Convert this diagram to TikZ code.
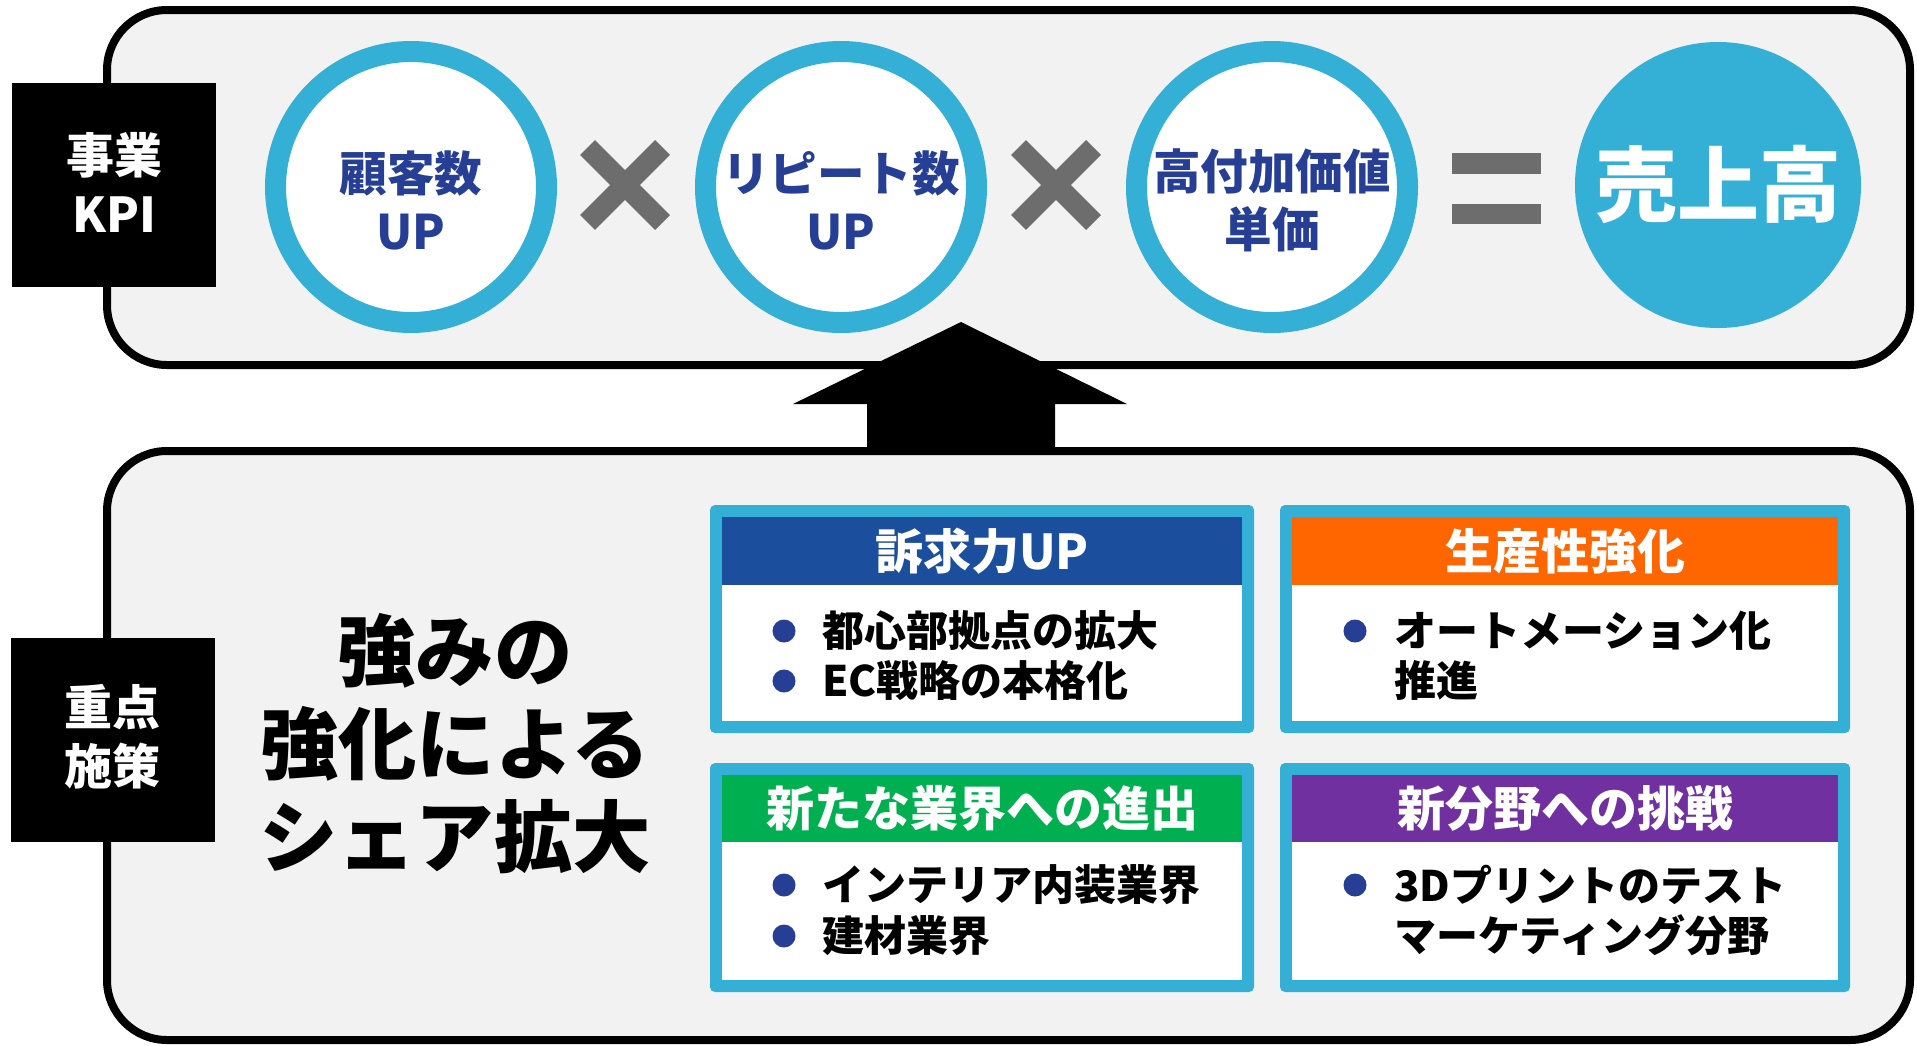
\documentclass[tikz,border=0pt]{standalone}
\usepackage{fontspec}
\setmainfont{Noto Sans CJK JP}
\definecolor{panelgray}{HTML}{F2F2F2}
\definecolor{kcyan}{HTML}{34B0D7}
\definecolor{kblue}{HTML}{263F94}
\definecolor{kgray}{HTML}{6D6D6D}
\definecolor{hdblue}{HTML}{1B4F9D}
\definecolor{hdorange}{HTML}{FF6600}
\definecolor{hdgreen}{HTML}{00B050}
\definecolor{hdpurple}{HTML}{7030A0}
\tikzset{
  panel/.style={draw=black, line width=4pt, fill=panelgray, rounded corners=30pt},
  tagbox/.style={fill=black, inner sep=0pt, minimum width=102pt, minimum height=102pt},
  tagtext/.style={text=white, font=\fontsize{24}{29.5}\selectfont\bfseries, align=center, inner sep=0pt},
  ring/.style={circle, minimum size=135.5pt, inner sep=0pt, draw=kcyan, line width=10.5pt, fill=white},
  solidcirc/.style={circle, minimum size=143pt, inner sep=0pt, fill=kcyan},
  circtext/.style={text=kblue, font=\fontsize{23.8}{29}\selectfont\bfseries, align=center, inner sep=0pt},
  mult/.style={draw=kgray, line width=10.5pt, line cap=butt},
  eqbar/.style={fill=kgray},
  cardframe/.style={fill=kcyan, rounded corners=2.5pt},
  headtext/.style={text=white, font=\fontsize{24}{28}\selectfont\bfseries, inner sep=0pt},
  bodytext/.style={text=black, font=\fontsize{21}{25}\selectfont\bfseries, inner sep=0pt, anchor=west, align=left},
  bulletdot/.style={circle, fill=kblue, minimum size=11.5pt, inner sep=0pt},
  bigtext/.style={text=black, font=\fontsize{39.2}{46.5}\selectfont\bfseries, align=center, inner sep=0pt},
}
\begin{document}
\begin{tikzpicture}[x=0.5pt,y=-0.5pt]
\useasboundingbox (0,0) rectangle (1917,1045);
\fill[white] (0,0) rectangle (1917,1045);

% panels
\draw[panel] (107,10) rectangle (1910,365);
\draw[panel] (107,451) rectangle (1910,1040);

% tags
\node[tagbox] (tag1) at (114,185) {};
\node[tagtext] (tag1t) at (114,182) {事業\\KPI};
\node[tagbox] (tag2) at (112.5,740) {};
\node[tagtext] (tag2t) at (112.5,737) {重点\\施策};

% circles
\node[ring] (c1) at (411,187) {};
\node[ring] (c2) at (841,187) {};
\node[ring] (c3) at (1272,187) {};
\node[solidcirc] (c4) at (1718,185) {};
\node[circtext] (c1t) at (411,200) {顧客数\\UP};
\node[circtext] (c2t) at (841,200) {リピート数\\UP};
\node[circtext] (c3t) at (1272,200) {高付加価値\\単価};
\node[text=white, font=\fontsize{41}{48}\selectfont\bfseries, inner sep=0pt] (c4t) at (1718,184) {売上高};

% operators
\coordinate (m1a) at (587.5,147.5); \coordinate (m1b) at (662.5,222.5);
\coordinate (m1c) at (662.5,147.5); \coordinate (m1d) at (587.5,222.5);
\draw[mult] (m1a) -- (m1b); \draw[mult] (m1c) -- (m1d);
\coordinate (m2a) at (1018.5,147.5); \coordinate (m2b) at (1093.5,222.5);
\coordinate (m2c) at (1093.5,147.5); \coordinate (m2d) at (1018.5,222.5);
\draw[mult] (m2a) -- (m2b); \draw[mult] (m2c) -- (m2d);
\fill[eqbar] (1452,153) rectangle (1541,174);
\fill[eqbar] (1452,204) rectangle (1541,224);

% big arrow
\fill[black] (961,322) -- (1127,404) -- (1055,404) -- (1055,453) -- (867,453) -- (867,404) -- (793,404) -- cycle;

% main text
\node[bigtext] (main) at (455,744) {強みの\\強化による\\シェア拡大};

% cards
\fill[cardframe] (710,505) rectangle (1254,733);
\fill[white] (722,517) rectangle (1242,721);
\fill[hdblue] (722,517) rectangle (1242,585);
\node[headtext] (h1) at (982,551) {訴求力UP};

\fill[cardframe] (1280,505) rectangle (1850,733);
\fill[white] (1292,517) rectangle (1838,721);
\fill[hdorange] (1292,517) rectangle (1838,585);
\node[headtext] (h2) at (1565,551) {生産性強化};

\fill[cardframe] (710,763) rectangle (1254,992);
\fill[white] (722,775) rectangle (1242,980);
\fill[hdgreen] (722,775) rectangle (1242,842);
\node[headtext] (h3) at (982,808) {新たな業界への進出};

\fill[cardframe] (1280,763) rectangle (1850,992);
\fill[white] (1292,775) rectangle (1838,980);
\fill[hdpurple] (1292,775) rectangle (1838,842);
\node[headtext] (h4) at (1565,808) {新分野への挑戦};

% card bodies
\node[bulletdot] (b1a) at (784,631) {};
\node[bodytext] (t1a) at (822,631) {都心部拠点の拡大};
\node[bulletdot] (b1b) at (784,681) {};
\node[bodytext] (t1b) at (822,681) {EC戦略の本格化};

\node[bulletdot] (b2a) at (1355,631) {};
\node[bodytext] (t2a) at (1394,656) {オートメーション化\\推進};

\node[bulletdot] (b3a) at (784,885) {};
\node[bodytext] (t3a) at (822,885) {インテリア内装業界};
\node[bulletdot] (b3b) at (784,936) {};
\node[bodytext] (t3b) at (822,936) {建材業界};

\node[bulletdot] (b4a) at (1355,885) {};
\node[bodytext] (t4a) at (1394,910) {3Dプリントのテスト\\マーケティング分野};
\end{tikzpicture}
\end{document}
